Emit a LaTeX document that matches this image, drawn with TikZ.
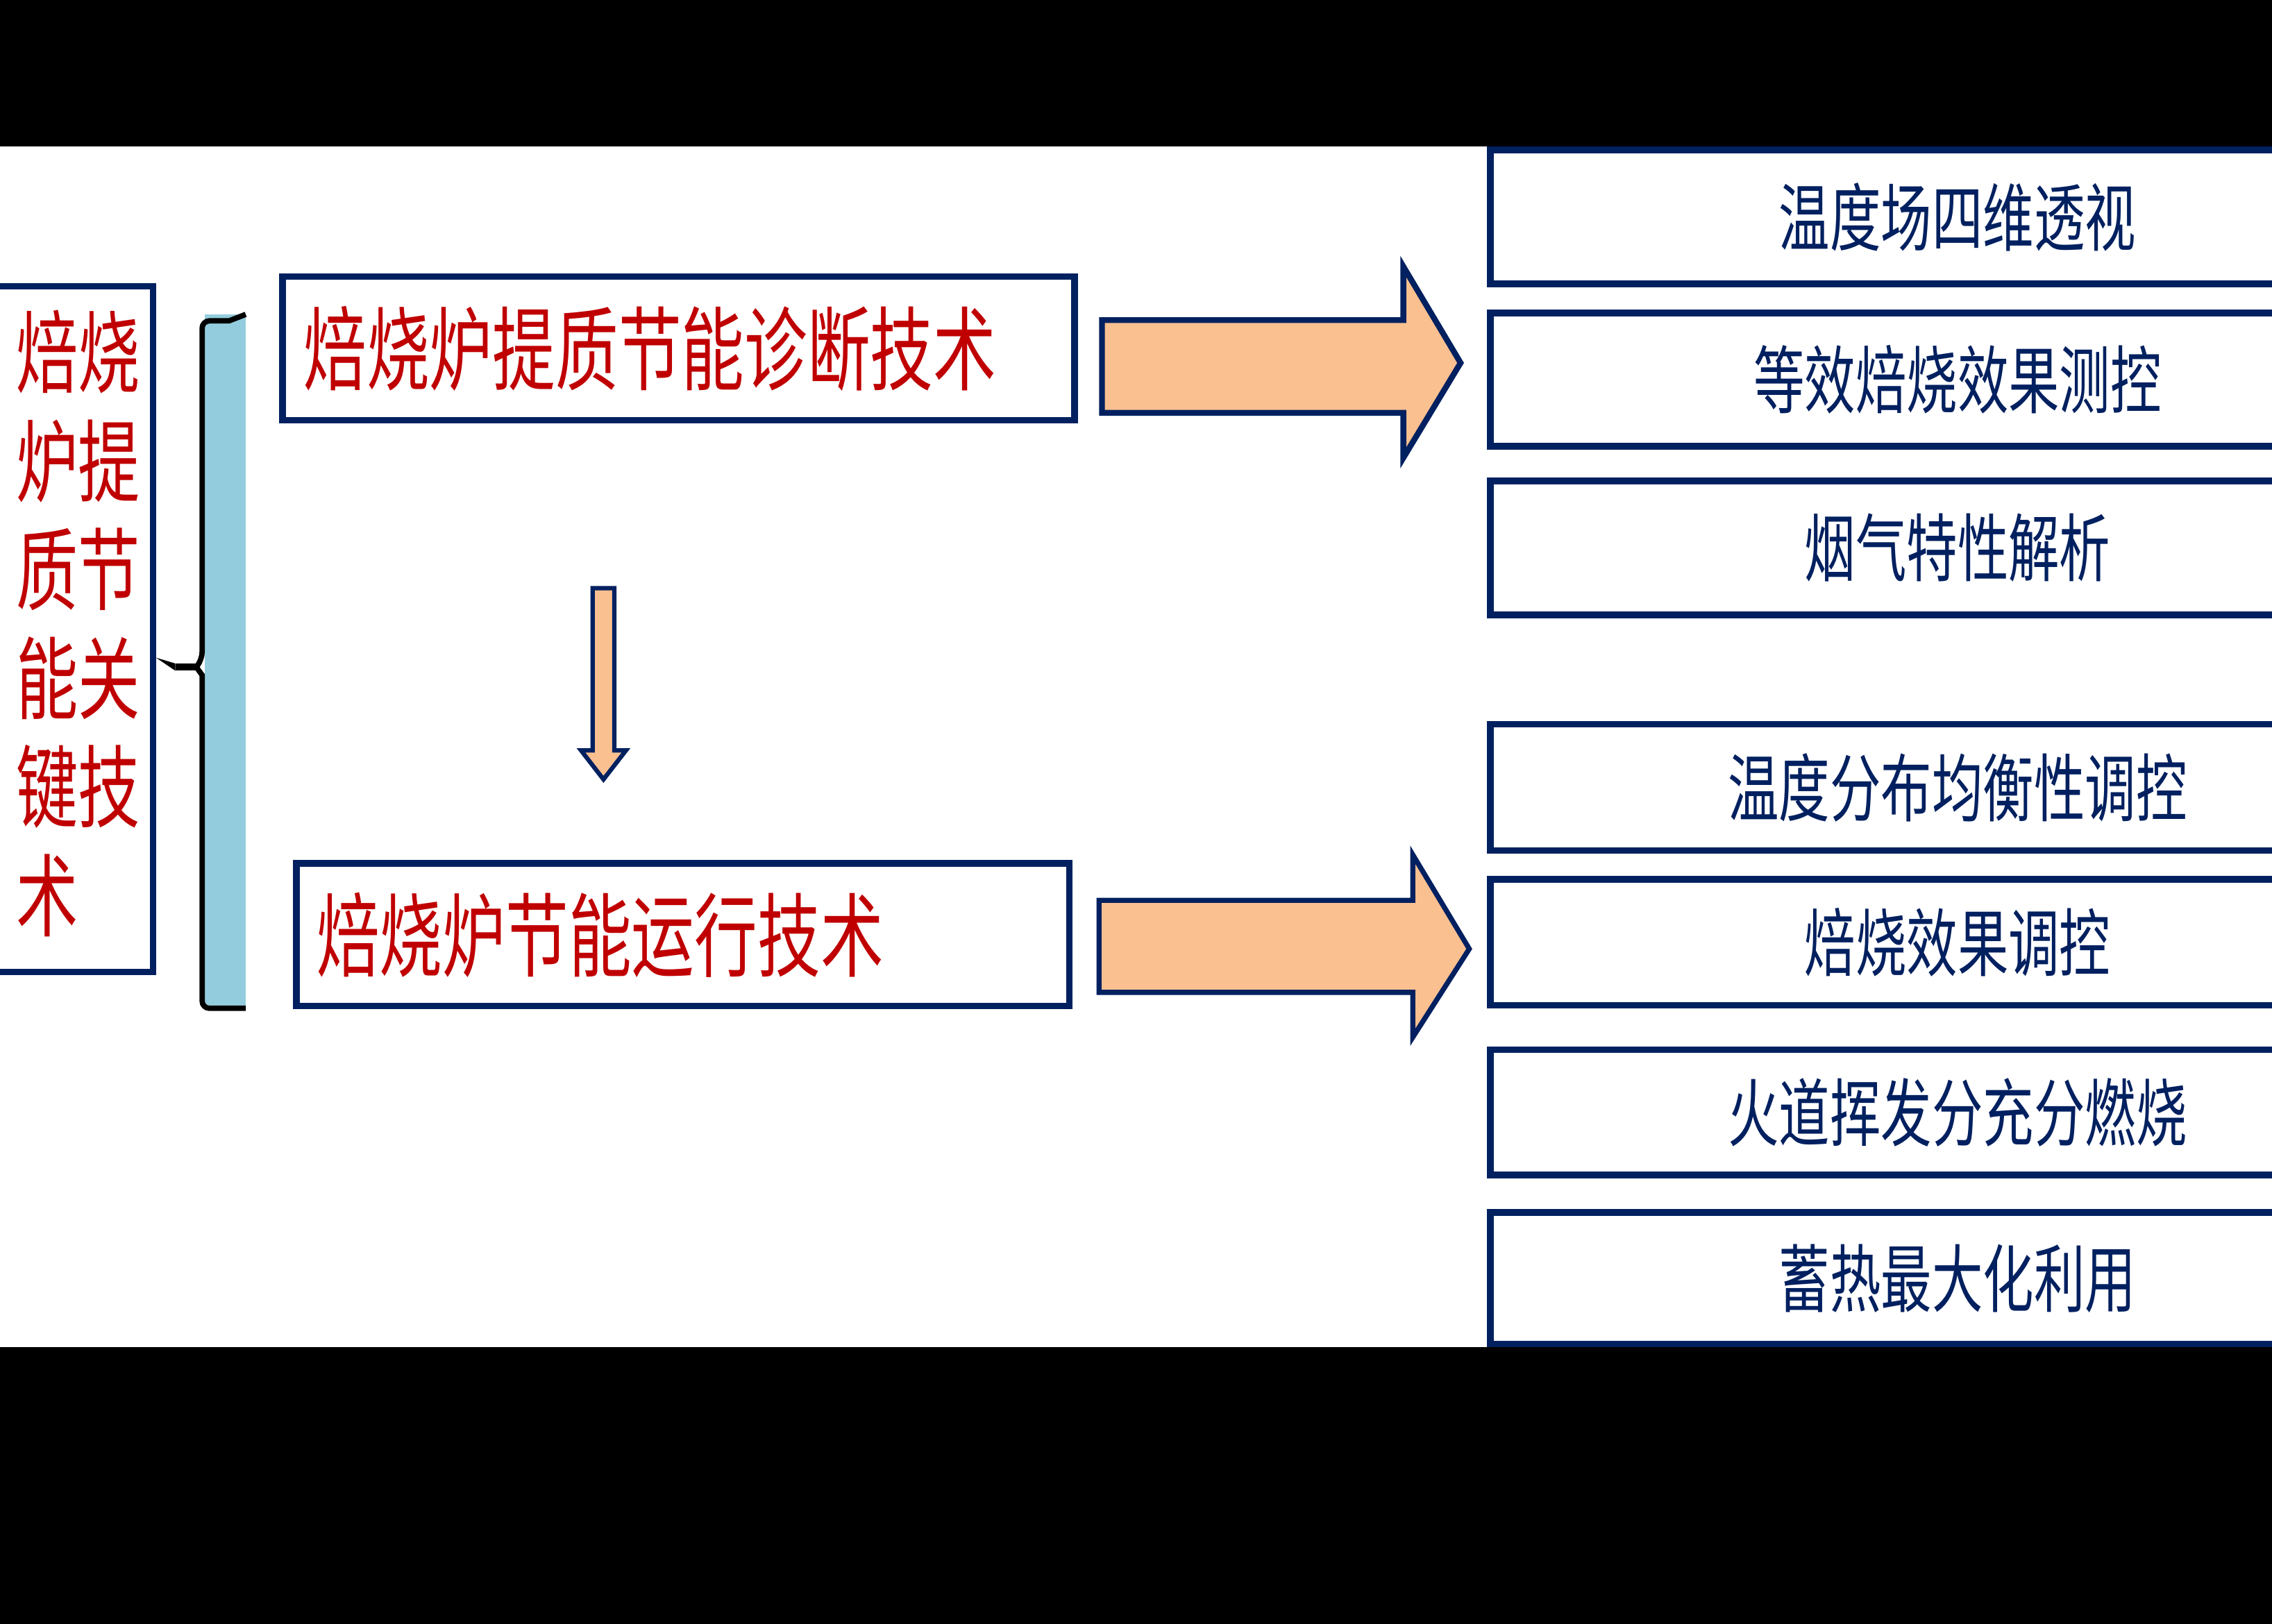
\documentclass[tikz,border=0pt]{standalone}
\usepackage{fontspec}
\newfontfamily\cjk[FakeStretch=0.69]{Noto Sans CJK SC}
\usepackage{tikz}

\definecolor{navy}{HTML}{002060}
\definecolor{darkred}{HTML}{C00000}
\definecolor{peach}{HTML}{FAC090}
\definecolor{barblue}{HTML}{93CDDD}

\begin{document}
\begin{tikzpicture}[x=1pt,y=-1pt,
        box/.style={draw=navy, line width=4.5pt, fill=white},
        techbox/.style={box, text=darkred, font=\cjk\fontsize{63}{75}\selectfont, align=left},
        item/.style={box, anchor=west, minimum width=645pt, inner sep=0pt, text=navy, font=\cjk\fontsize{51}{60}\selectfont},
        bigarrow/.style={fill=peach, draw=navy, line width=4pt, line join=miter},
        brace/.style={draw=black, line width=3.7pt}]
                \useasboundingbox (0,0) rectangle (1568,1121);
                \fill[white] (0,0) rectangle (1568,1121);

                % left box with the title
                \node[box, minimum width=113.5pt, minimum height=473.5pt] (key) at (48.75,434.25) {};
                \node[anchor=north west, inner sep=0pt, align=left, text=darkred, font=\cjk\fontsize{62}{75}\selectfont] (keytext) at (11,214) {焙烧\\炉提\\质节\\能关\\键技\\术};

                % bracket
                \fill[barblue] (141.3,217) rectangle (169.6,696);
                \coordinate (notch) at (135.5,460.5);
                \draw[brace] (169.6,217) -- (158,221.5) [rounded corners=5pt] -- (139.5,221.5) -- (139.5,455) [sharp corners] -- (notch) -- (139.5,466) [rounded corners=5pt] -- (139.5,696) -- (169.6,696);
                \fill[black] (key.east |- 0,454) -- (121,458) -- (121,463) -- cycle;
                \draw[brace, line width=5pt] (121,460.5) -- (notch);

                % two techniques
                \node[techbox, text width=517.5pt, inner xsep=14.5pt, minimum height=99pt] (diag) at (468.25,240.5) {焙烧炉提质节能诊断技术};
                \node[techbox, text width=505.5pt, inner xsep=14pt, minimum height=98.5pt] (run) at (471.25,645.25) {焙烧炉节能运行技术};

                % block arrows
                \draw[bigarrow] (760.5,221) -- (968.5,221) -- (968.5,184) -- (1008,250.5) -- (968.5,316) -- (968.5,285) -- (760.5,285) -- cycle;
                \draw[bigarrow, line width=3.5pt] (758.5,621.5) -- (975,621.5) -- (975,590) -- (1014,655) -- (975,716) -- (975,685) -- (758.5,685) -- cycle;
                \draw[bigarrow, line width=3pt] (409,406) -- (424,406) -- (424,518) -- (432,518) -- (416.5,538) -- (401,518) -- (409,518) -- cycle;

                % items on the right
                \node[item, minimum height=92.5pt] (field) at (1026.25,149.75) {温度场四维透视};
                \node[item, minimum height=92pt] (effect) at (1026.25,262) {等效焙烧效果测控};
                \node[item, minimum height=92.5pt] (flue) at (1026.25,378.25) {烟气特性解析};
                \node[item, minimum height=87pt] (balance) at (1026.25,543.5) {温度分布均衡性调控};
                \node[item, minimum height=87pt] (control) at (1026.25,650.5) {焙烧效果调控};
                \node[item, minimum height=86.5pt] (flame) at (1026.25,767.75) {火道挥发分充分燃烧};
                \node[item, minimum height=91pt] (heat) at (1026.25,882.5) {蓄热最大化利用};

                % black bands
                \fill[black] (0,0) rectangle (1568,101);
                \fill[black] (0,930) rectangle (1568,1121);
\end{tikzpicture}
\end{document}
